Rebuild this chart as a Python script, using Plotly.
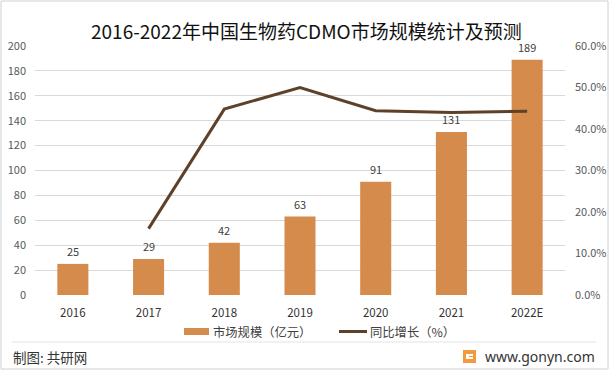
import plotly.graph_objects as go

years = ["2016", "2017", "2018", "2019", "2020", "2021", "2022E"]
market_size = [25, 29, 42, 63, 91, 131, 189]
growth_years = ["2017", "2018", "2019", "2020", "2021", "2022E"]
growth_rate = [0.16, 0.448, 0.50, 0.444, 0.44, 0.443]
legend_labels = ["市场规模（亿元）", "同比增长（%）"]

BAR = "#D58B4C"
LINE = "#5F4129"
FONT = "Noto Sans CJK SC, Microsoft YaHei, sans-serif"
TICK = "#595959"

L, R, T, B = 35, 46, 46, 78
W, H = 611, 373
pw, ph = W - L - R, H - T - B

def px(x):
    return (x - L) / pw

def py(y):
    return (H - B - y) / ph

fig = go.Figure()
fig.add_trace(go.Bar(
    x=years, y=market_size, name=legend_labels[0],
    marker=dict(color=BAR, line=dict(width=0)),
    yaxis="y", hoverinfo="skip",
))
fig.add_trace(go.Scatter(
    x=growth_years, y=growth_rate, name=legend_labels[1],
    mode="lines", line=dict(color=LINE, width=3), yaxis="y2", hoverinfo="skip",
))

shapes = [
    dict(type="rect", xref="paper", yref="paper", x0=px(1), x1=px(608), y0=py(369), y1=py(1),
         line=dict(color="#D0D0D0", width=1), layer="below"),
    dict(type="line", xref="paper", yref="paper", x0=px(12), x1=px(596), y0=py(342), y1=py(342),
         line=dict(color="#E3E3E3", width=1)),
    # legend swatches
    dict(type="rect", xref="paper", yref="paper", x0=px(184), x1=px(209), y0=py(335), y1=py(328),
         fillcolor=BAR, line=dict(width=0)),
    dict(type="line", xref="paper", yref="paper", x0=px(339), x1=px(367), y0=py(331.5), y1=py(331.5),
         line=dict(color=LINE, width=3)),
    # site icon
    dict(type="rect", xref="paper", yref="paper", x0=px(463), x1=px(476), y0=py(363), y1=py(350),
         fillcolor="#F39A3C", line=dict(width=0)),
    dict(type="rect", xref="paper", yref="paper", x0=px(466), x1=px(473), y0=py(359), y1=py(354),
         fillcolor="white", line=dict(width=0)),
    dict(type="rect", xref="paper", yref="paper", x0=px(469), x1=px(476), y0=py(357), y1=py(356),
         fillcolor="#F39A3C", line=dict(width=0)),
]

annotations = [
    dict(text="2016-2022年中国生物药CDMO市场规模统计及预测", xref="paper", yref="paper",
         x=px(306), y=py(30), xanchor="center", yanchor="middle", showarrow=False,
         font=dict(size=19, color="#111111", family=FONT)),
    dict(text=legend_labels[0], xref="paper", yref="paper", x=px(211), y=py(331.5),
         xanchor="left", yanchor="middle", showarrow=False,
         font=dict(size=12.3, color="#404040", family=FONT)),
    dict(text=legend_labels[1], xref="paper", yref="paper", x=px(368), y=py(331.5),
         xanchor="left", yanchor="middle", showarrow=False,
         font=dict(size=12.3, color="#404040", family=FONT)),
    dict(text="制图: 共研网", xref="paper", yref="paper", x=px(11), y=py(357),
         xanchor="left", yanchor="middle", showarrow=False,
         font=dict(size=13.5, color="#333333", family=FONT)),
    dict(text="www.gonyn.com", xref="paper", yref="paper", x=px(597), y=py(356),
         xanchor="right", yanchor="middle", showarrow=False,
         font=dict(size=14, color="#333333", family="Noto Sans, sans-serif")),
]
# value labels above bars (category index on the x axis)
for i, v in enumerate(market_size):
    annotations.append(dict(text=str(v), x=i, y=v, xref="x", yref="y",
                            xanchor="center", yanchor="middle", yshift=13, showarrow=False,
                            font=dict(size=11, color="#404040", family=FONT)))

fig.update_layout(
    width=W, height=H,
    margin=dict(l=L, r=R, t=T, b=B, autoexpand=False),
    paper_bgcolor="white", plot_bgcolor="white",
    font=dict(family=FONT, size=11, color=TICK),
    bargap=0.59,
    showlegend=False,
    xaxis=dict(type="category", categoryorder="array", categoryarray=years,
               range=[-0.5, len(years) - 0.5], automargin=False,
               showgrid=False, showline=False, ticks="",
               ticklabelstandoff=9, tickfont=dict(size=11.5, color="#333333")),
    yaxis=dict(range=[0, 200], dtick=20, showgrid=True, gridcolor="#D9D9D9", gridwidth=1,
               zeroline=False, showline=False, ticklabelstandoff=8, automargin=False,
               tickfont=dict(size=11, color=TICK)),
    yaxis2=dict(range=[0, 0.6], dtick=0.1, tickformat=".1%", overlaying="y", side="right",
                showgrid=False, zeroline=False, showline=False, ticklabelstandoff=9,
                automargin=False, tickfont=dict(size=11, color=TICK)),
    shapes=shapes,
    annotations=annotations,
)

fig.write_html("out.html", config={"displayModeBar": False},
               post_script="document.body.style.margin='0';document.body.style.overflow='hidden';")
